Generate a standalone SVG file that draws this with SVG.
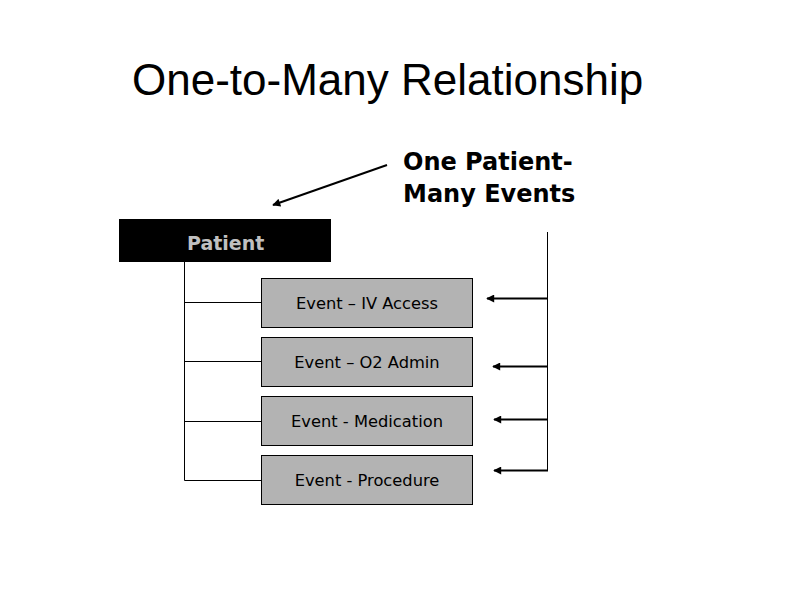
<svg xmlns="http://www.w3.org/2000/svg" width="799" height="598" viewBox="0 0 799 598">
<style>
.title{font-family:"Liberation Sans",Arial,sans-serif;font-size:44px;fill:#000}
.note{font-family:"DejaVu Sans",Verdana,sans-serif;font-weight:bold;font-size:24px;fill:#000}
.ev rect{fill:#b3b3b3;stroke:#000;stroke-width:1}
.ev text{font-family:"DejaVu Sans",Tahoma,sans-serif;font-size:16.3px;fill:#000;text-anchor:middle}
.tree{stroke:#000;stroke-width:1;fill:none}
.arr{stroke:#000;stroke-width:2;fill:none;marker-end:url(#ah)}
</style>
<defs>
<marker id="ah" viewBox="0 0 10 10" refX="9" refY="5" markerWidth="4.5" markerHeight="4" orient="auto" markerUnits="strokeWidth">
<path d="M0,0 L10,5 L0,10 z" fill="#000"/>
</marker>
</defs>
<rect width="799" height="598" fill="#fff"/>
<text class="title" x="132" y="95">One-to-Many Relationship</text>
<g id="note">
<text class="note" x="403" y="170">One Patient-</text>
<text class="note" x="403" y="202">Many Events</text>
</g>
<g id="patient">
<rect x="119" y="219" width="212" height="43" fill="#000"/>
<text x="187" y="250" font-family="DejaVu Sans,Verdana,sans-serif" font-weight="bold" font-size="19" fill="#c0c0c0">Patient</text>
</g>
<g id="ev1" class="ev"><rect x="261.5" y="278.5" width="211" height="49"/><text x="367" y="309">Event – IV Access</text></g>
<g id="ev2" class="ev"><rect x="261.5" y="337.5" width="211" height="49"/><text x="367" y="368">Event – O2 Admin</text></g>
<g id="ev3" class="ev"><rect x="261.5" y="396.5" width="211" height="49"/><text x="367" y="427">Event - Medication</text></g>
<g id="ev4" class="ev"><rect x="261.5" y="455.5" width="211" height="49"/><text x="367" y="486">Event - Procedure</text></g>
<g id="connectors">
<path class="tree" d="M184.5,262 V480.5 H261 M184.5,302.5 H261 M184.5,361.5 H261 M184.5,421.5 H261"/>
<path class="tree" d="M547.5,232 V470.5"/>
<line class="arr" x1="547" y1="298.5" x2="487" y2="298.5"/>
<line class="arr" x1="547" y1="366.5" x2="493" y2="366.5"/>
<line class="arr" x1="547" y1="419.5" x2="494" y2="419.5"/>
<line class="arr" x1="548" y1="470.5" x2="494" y2="470.5"/>
<line class="arr" x1="387" y1="165" x2="273" y2="205"/>
</g>
</svg>
